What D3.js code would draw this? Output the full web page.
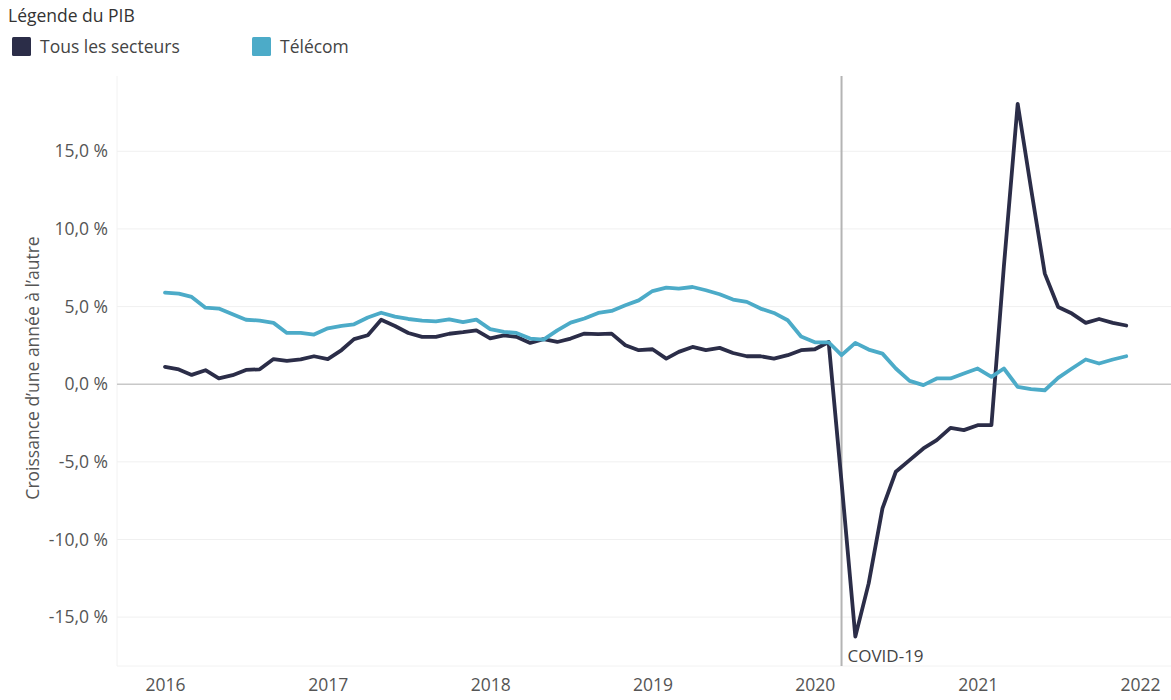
<!DOCTYPE html>
<html>
<head>
<meta charset="utf-8">
<script src="https://cdn.jsdelivr.net/npm/d3@7"></script>
<style>
  body { margin: 0; background: #fff; }
  svg { font-family: "Open Sans", "Noto Sans", sans-serif; }
</style>
</head>
<body>
<svg id="chart" width="1171" height="700"></svg>
<script>
// monthly values, Jan 2016 .. Dec 2021
var startMonth = "2016-01";
var tousSecteurs = [
  1.12, 0.95, 0.6, 0.9, 0.37, 0.58, 0.92, 0.96, 1.62, 1.5, 1.6, 1.8,
  1.62, 2.2, 2.9, 3.15, 4.15, 3.75, 3.3, 3.05, 3.05, 3.25, 3.35, 3.47,
  2.95, 3.15, 3.05, 2.66, 2.9, 2.72, 2.94, 3.26, 3.22, 3.26, 2.51, 2.19,
  2.25, 1.65, 2.08, 2.4, 2.19, 2.34, 2.01, 1.8, 1.8, 1.65, 1.87, 2.19,
  2.25, 2.72, -6.3, -16.26, -12.83, -8.0, -5.64, -4.89, -4.14, -3.6, -2.81, -2.96,
  -2.64, -2.64, 7.6, 18.06, 12.6, 7.12, 4.97, 4.55, 3.95, 4.2, 3.95, 3.78
];
var telecom = [
  5.9, 5.83, 5.62, 4.93, 4.87, 4.5, 4.15, 4.1, 3.95, 3.3, 3.3, 3.2,
  3.6, 3.75, 3.86, 4.3, 4.6, 4.35, 4.2, 4.1, 4.05, 4.18, 4.0, 4.16,
  3.55, 3.37, 3.3, 2.94, 2.87, 3.47, 3.97, 4.23, 4.59, 4.72, 5.08, 5.4,
  6.0, 6.22, 6.16, 6.26, 6.05, 5.79, 5.45, 5.3, 4.87, 4.59, 4.12, 3.07,
  2.7, 2.7, 1.87, 2.66, 2.23, 1.97, 1.01, 0.21, -0.06, 0.37, 0.37, 0.69,
  1.01, 0.47, 1.01, -0.17, -0.32, -0.39, 0.41, 1.01, 1.59, 1.33, 1.59, 1.8
];
var yTicks = [-15, -10, -5, 0, 5, 10, 15];
var xTickYears = [2016, 2017, 2018, 2019, 2020, 2021, 2022];
var seriesNames = ["Tous les secteurs", "Télécom"];
var seriesColors = ["#2b2d48", "#4cabc8"];
var covidDate = "2020-03";
var covidLabel = "COVID-19";

var svg = d3.select("#chart");
var parseMonth = d3.timeParse("%Y-%m");
var t0 = parseMonth(startMonth);
var months = tousSecteurs.map((d, i) => d3.timeMonth.offset(t0, i));

var plot = { left: 117, right: 1171, top: 76, bottom: 666 };

var x = d3.scaleTime()
  .domain([new Date(2016, 0, 1), new Date(2022, 0, 1)])
  .range([165, 1140]);
var y = d3.scaleLinear()
  .domain([-18.15, 19.85])
  .range([plot.bottom, plot.top]);

var fmt = v => d3.format(".1f")(v).replace(".", ",").replace("−", "-") + " %";

// grid
svg.append("g").selectAll("line")
  .data(yTicks.filter(d => d !== 0))
  .enter().append("line")
    .attr("x1", plot.left).attr("x2", plot.right)
    .attr("y1", d => y(d)).attr("y2", d => y(d))
    .attr("stroke", "#f0f0f0").attr("stroke-width", 1);

// plot border (faint)
svg.append("line")
  .attr("x1", plot.left).attr("x2", plot.left)
  .attr("y1", plot.top).attr("y2", plot.bottom)
  .attr("stroke", "#f2f2f2");
svg.append("line")
  .attr("x1", plot.left).attr("x2", plot.right)
  .attr("y1", plot.bottom).attr("y2", plot.bottom)
  .attr("stroke", "#f2f2f2");

// zero line
svg.append("line")
  .attr("x1", plot.left).attr("x2", plot.right)
  .attr("y1", y(0)).attr("y2", y(0))
  .attr("stroke", "#c8c8c8").attr("stroke-width", 1.5);

// y axis labels
var yAxis = d3.axisLeft(y).tickValues(yTicks).tickFormat(fmt).tickSize(0).tickPadding(0);
svg.append("g")
  .attr("transform", "translate(108,0)")
  .call(yAxis)
  .call(g => g.select(".domain").remove())
  .call(g => g.selectAll("text")
    .attr("fill", "#555").style("font-size", "17.5px")
    .style("font-family", "'Open Sans', sans-serif"));

// x axis labels
var xAxis = d3.axisBottom(x)
  .tickValues(xTickYears.map(yr => new Date(yr, 0, 1)))
  .tickFormat(d3.timeFormat("%Y")).tickSize(0).tickPadding(0);
svg.append("g")
  .attr("transform", "translate(0,679)")
  .call(xAxis)
  .call(g => g.select(".domain").remove())
  .call(g => g.selectAll("text")
    .attr("fill", "#555").style("font-size", "17.5px")
    .style("font-family", "'Open Sans', sans-serif"));

// y axis title
svg.append("text")
  .attr("transform", "translate(39,368) rotate(-90)")
  .attr("text-anchor", "middle")
  .attr("fill", "#555")
  .style("font-size", "17.5px")
  .text("Croissance d\u2019une année à l\u2019autre");

// covid reference line
var cx = x(parseMonth(covidDate));
svg.append("line")
  .attr("x1", cx).attr("x2", cx)
  .attr("y1", plot.top).attr("y2", plot.bottom)
  .attr("stroke", "#b4b4b4").attr("stroke-width", 2);

// series lines
var line = d3.line()
  .x((d, i) => x(months[i]))
  .y(d => y(d));

[tousSecteurs, telecom].forEach((vals, k) => {
  svg.append("path")
    .datum(vals)
    .attr("fill", "none")
    .attr("stroke", seriesColors[k])
    .attr("stroke-width", 3.8)
    .attr("stroke-linejoin", "round")
    .attr("stroke-linecap", "round")
    .attr("d", line);
});

svg.append("text")
  .attr("x", cx + 6).attr("y", 662)
  .attr("fill", "#444")
  .style("font-size", "17px")
  .text(covidLabel);

// legend
svg.append("text")
  .attr("x", 8).attr("y", 22)
  .attr("fill", "#333")
  .style("font-size", "17.5px")
  .text("Légende du PIB");

var legendX = [12, 252];
var leg = svg.append("g").selectAll("g")
  .data(seriesNames)
  .enter().append("g")
    .attr("transform", (d, i) => "translate(" + legendX[i] + ",37)");
leg.append("rect")
  .attr("width", 19).attr("height", 19).attr("rx", 1.5)
  .attr("fill", (d, i) => seriesColors[i]);
leg.append("text")
  .attr("x", 28).attr("y", 16)
  .attr("fill", "#444")
  .style("font-size", "17.5px")
  .text(d => d);
</script>
</body>
</html>
